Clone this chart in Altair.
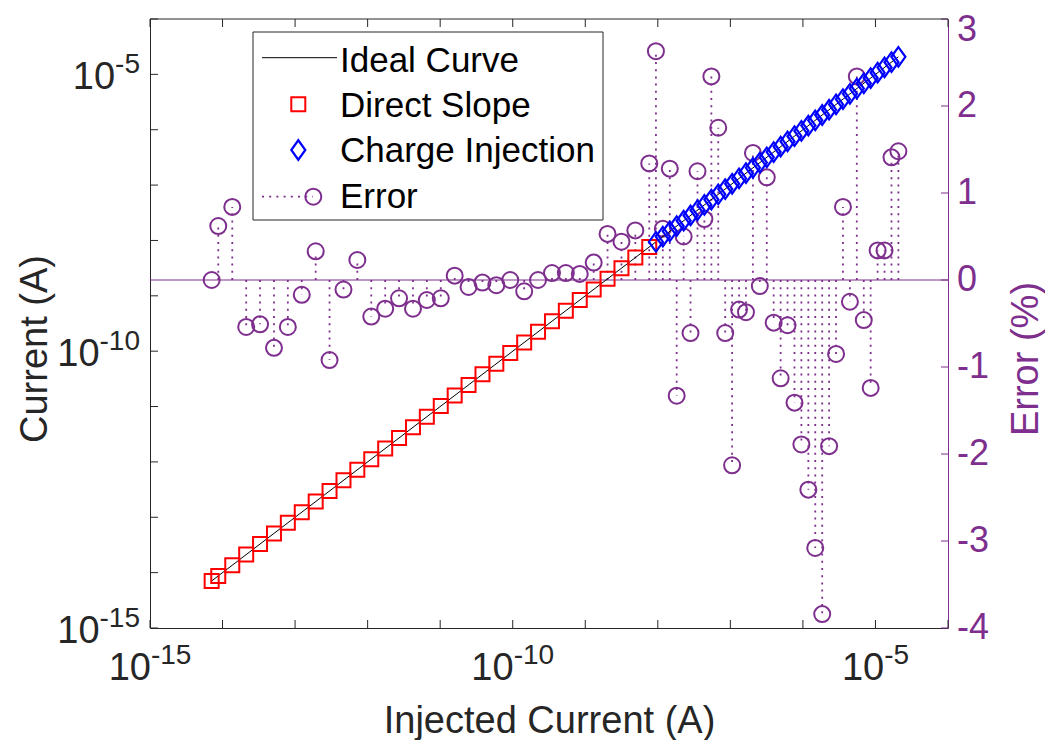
import altair as alt
import pandas as pd

# ---------------- data ----------------
# log10 of injected current for the "Direct Slope" points (they lie on the ideal curve)
SQ_EXP = [-14.150, -14.059, -13.866, -13.674, -13.483, -13.291, -13.100, -12.908,
          -12.716, -12.525, -12.333, -12.142, -11.950, -11.758, -11.567, -11.375,
          -11.184, -10.992, -10.800, -10.609, -10.417, -10.226, -10.034, -9.842,
          -9.651, -9.459, -9.268, -9.076, -8.884, -8.693, -8.501, -8.310, -8.118]
SQ_ERR = [0.00, 0.62, 0.84, -0.54, -0.51, -0.78, -0.54, -0.17, 0.33, -0.92, -0.11,
          0.23, -0.42, -0.33, -0.21, -0.33, -0.23, -0.21, 0.05, -0.08, -0.03, -0.06,
          0.00, -0.13, 0.00, 0.08, 0.08, 0.07, 0.20, 0.53, 0.44, 0.57, 1.34]
# log10 of injected current for the "Charge Injection" points
DI_EXP = [-8.026, -7.931, -7.835, -7.740, -7.644, -7.549, -7.453, -7.358, -7.262,
          -7.167, -7.071, -6.976, -6.880, -6.785, -6.689, -6.594, -6.498, -6.403,
          -6.307, -6.212, -6.116, -6.021, -5.925, -5.830, -5.734, -5.639, -5.543,
          -5.448, -5.352, -5.257, -5.161, -5.066, -4.970, -4.875, -4.779, -4.684]
DI_ERR = [2.63, 0.59, 1.28, -1.33, 0.50, -0.61, 1.25, 0.70, 2.34, 1.75, -0.61, -2.13,
          -0.34, -0.37, 1.46, -0.07, 1.18, -0.49, -1.13, -0.52, -1.41, -1.89, -2.41,
          -3.08, -3.84, -1.91, -0.85, 0.84, -0.25, 2.34, -0.46, -1.24, 0.34, 0.34,
          1.41, 1.48]
IDEAL_EXP = [-14.150, -4.684]
DECADES = [-15, -14, -13, -12, -11, -10, -9, -8, -7, -6, -5, -4]
X_LABEL_EXP = [-15, -10, -5]
Y_LABEL_EXP = [-15, -10, -5]
ERR_TICKS = [-4, -3, -2, -1, 0, 1, 2, 3]
ERR_LABELS = ["-4", "-3", "-2", "-1", "0", "1", "2", "3"]
LEGEND_LABELS = ["Ideal Curve", "Direct Slope", "Charge Injection", "Error"]

# ---------------- style ----------------
PURPLE = "#7E2F8E"
RED = "#FF0000"
BLUE = "#0000FF"
INK = "#262626"
FONT = "Liberation Sans"
W, H = 798, 609
TICK = 8
T_FS = 38
E_FS = 28
RAISE = 16
TITLE_FS = 38
LEG_FS = 35
R_FS = 36
DIAMOND = "M0,-1L0.72,0L0,1L-0.72,0Z"

AW = {"0": .556, "1": .556, "2": .556, "3": .556, "4": .556, "5": .556,
      "6": .556, "7": .556, "8": .556, "9": .556, "-": .333}


def tw(s, fs):
    return sum(AW[c] for c in s) * fs


sq = pd.DataFrame({"x": [10.0 ** e for e in SQ_EXP],
                   "y": [10.0 ** e for e in SQ_EXP], "err": SQ_ERR})
di = pd.DataFrame({"x": [10.0 ** e for e in DI_EXP],
                   "y": [10.0 ** e for e in DI_EXP], "err": DI_ERR})
err_df = pd.concat([sq, di], ignore_index=True)
err_df["zero"] = 0.0
ideal = pd.DataFrame({"x": [10.0 ** e for e in IDEAL_EXP],
                      "y": [10.0 ** e for e in IDEAL_EXP]})
dec = pd.DataFrame({"v": [10.0 ** e for e in DECADES]})
dummy = pd.DataFrame({"a": [0]})
etick = pd.DataFrame({"t": ERR_TICKS, "lab": ERR_LABELS})

xs = alt.Scale(type="log", domain=[1e-15, 1e-4], nice=False)
ys = alt.Scale(type="log", domain=[1e-15, 1e-4], nice=False)
es = alt.Scale(type="linear", domain=[-4, 3], nice=False, zero=False)

xaxis = alt.Axis(title="Injected Current (A)", labels=False, ticks=False, grid=False,
                 domain=True, domainColor=INK, domainWidth=1,
                 titleFont=FONT, titleFontSize=TITLE_FS, titleFontWeight="normal",
                 titleColor=INK, titleBaseline="alphabetic", titleAlign="center",
                 titleX=W / 2, titleY=104)
yaxis = alt.Axis(orient="left", title="Current (A)", labels=False, ticks=False,
                 grid=False, domain=True, domainColor=INK, domainWidth=1,
                 titleFont=FONT, titleFontSize=TITLE_FS, titleFontWeight="normal",
                 titleColor=INK, titleAngle=270, titleBaseline="alphabetic",
                 titleAlign="center", titleX=-104, titleY=H / 2 + 25)
eaxis = alt.Axis(orient="right", title="Error (%)", labels=False, ticks=False,
                 grid=False, domain=True, domainColor=PURPLE, domainWidth=1,
                 titleFont=FONT, titleFontSize=TITLE_FS, titleFontWeight="normal",
                 titleColor=PURPLE, titleAngle=270, titleBaseline="alphabetic",
                 titleAlign="center", titleX=89, titleY=H / 2 + 35)

X = lambda f: alt.X(f, scale=xs, axis=xaxis)
Y = lambda f: alt.Y(f, scale=ys, axis=yaxis)
E = lambda f: alt.Y(f, scale=es, axis=eaxis)

# ---------------- right (error) group ----------------
right_layers = [
    alt.Chart(dummy).transform_calculate(zero="0").mark_rule(color=PURPLE, strokeWidth=1)
    .encode(y=E("zero:Q"), x=alt.value(0), x2=alt.value(W)),
    alt.Chart(err_df).mark_rule(color=PURPLE, strokeWidth=1.8, strokeDash=[2, 5.2])
    .encode(x=X("x:Q"), y=E("zero:Q"), y2="err:Q"),
    alt.Chart(err_df).mark_point(shape="circle", filled=False, color=PURPLE, size=256,
                                 strokeWidth=2, opacity=1)
    .encode(x=X("x:Q"), y=E("err:Q")),
    alt.Chart(etick).mark_rule(color=PURPLE, strokeWidth=1)
    .encode(y=E("t:Q"), x=alt.value(W - 7), x2=alt.value(W)),
    alt.Chart(etick).transform_filter("datum.t < 3")
    .mark_text(font=FONT, fontSize=R_FS, color=PURPLE, align="left", baseline="middle")
    .encode(y=E("t:Q"), x=alt.value(W + 9), text="lab:N"),
    alt.Chart(etick).transform_filter("datum.t >= 3")
    .mark_text(font=FONT, fontSize=R_FS, color=PURPLE, align="left", baseline="middle", dy=11)
    .encode(y=E("t:Q"), x=alt.value(W + 9), text="lab:N"),
]
right_group = alt.layer(*right_layers)

# ---------------- left (current) group ----------------
left_layers = [
    alt.Chart(ideal).mark_line(color="black", strokeWidth=1)
    .encode(x=X("x:Q"), y=Y("y:Q")),
    alt.Chart(sq).mark_point(shape="square", filled=False, color=RED, size=196,
                             strokeWidth=2, opacity=1)
    .encode(x=X("x:Q"), y=Y("y:Q")),
    alt.Chart(di).mark_point(shape=DIAMOND, filled=False, color=BLUE, size=380,
                             strokeWidth=2.2, opacity=1)
    .encode(x=X("x:Q"), y=Y("y:Q")),
    # inward ticks
    alt.Chart(dec).mark_rule(color=INK, strokeWidth=1)
    .encode(y=Y("v:Q"), x=alt.value(0), x2=alt.value(TICK)),
    alt.Chart(dec).mark_rule(color=INK, strokeWidth=1)
    .encode(x=X("v:Q"), y=alt.value(H - TICK), y2=alt.value(H)),
    alt.Chart(dec).mark_rule(color=INK, strokeWidth=1)
    .encode(x=X("v:Q"), y=alt.value(0), y2=alt.value(TICK)),
    alt.Chart(dummy).mark_rule(color=INK, strokeWidth=1)
    .encode(x=alt.value(0), x2=alt.value(W), y=alt.value(0)),
]

# tick labels with superscript exponents
BOT_BASE = 52
for e in X_LABEL_EXP:
    d = pd.DataFrame({"v": [10.0 ** e]})
    w10 = tw("10", T_FS)
    we = tw(str(e), E_FS)
    tot = w10 + we
    left_layers.append(
        alt.Chart(d).mark_text(text="10", font=FONT, fontSize=T_FS, color=INK,
                               align="left", baseline="alphabetic", dx=-tot / 2)
        .encode(x=X("v:Q"), y=alt.value(H + BOT_BASE)))
    left_layers.append(
        alt.Chart(d).mark_text(text=str(e), font=FONT, fontSize=E_FS, color=INK,
                               align="left", baseline="alphabetic", dx=-tot / 2 + w10)
        .encode(x=X("v:Q"), y=alt.value(H + BOT_BASE - RAISE)))

LDY = 15
for e in Y_LABEL_EXP:
    d = pd.DataFrame({"v": [10.0 ** e]})
    we = tw(str(e), E_FS)
    left_layers.append(
        alt.Chart(d).mark_text(text="10", font=FONT, fontSize=T_FS, color=INK,
                               align="right", baseline="alphabetic", dy=LDY)
        .encode(y=Y("v:Q"), x=alt.value(-10 - we)))
    left_layers.append(
        alt.Chart(d).mark_text(text=str(e), font=FONT, fontSize=E_FS, color=INK,
                               align="right", baseline="alphabetic", dy=LDY - RAISE)
        .encode(y=Y("v:Q"), x=alt.value(-10)))

# legend
ROW_MARK_Y = [38.7, 85.3, 131.0, 177.7]
ROW_TEXT_Y = [52.7, 97.7, 143.3, 188.7]
left_layers += [
    alt.Chart(dummy).mark_rect(fill="white", stroke=INK, strokeWidth=1)
    .encode(x=alt.value(103), x2=alt.value(453), y=alt.value(13), y2=alt.value(201)),
    alt.Chart(dummy).mark_rule(color="black", strokeWidth=1)
    .encode(x=alt.value(112), x2=alt.value(187), y=alt.value(ROW_MARK_Y[0])),
    alt.Chart(dummy).mark_point(shape="square", filled=False, color=RED, size=196,
                                strokeWidth=2, opacity=1)
    .encode(x=alt.value(148.3), y=alt.value(ROW_MARK_Y[1])),
    alt.Chart(dummy).mark_point(shape=DIAMOND, filled=False, color=BLUE, size=380,
                                strokeWidth=2.2, opacity=1)
    .encode(x=alt.value(148.3), y=alt.value(ROW_MARK_Y[2])),
    alt.Chart(dummy).mark_rule(color=PURPLE, strokeWidth=1.8, strokeDash=[2, 5.2])
    .encode(x=alt.value(112), x2=alt.value(163), y=alt.value(ROW_MARK_Y[3])),
    alt.Chart(dummy).mark_point(shape="circle", filled=False, color=PURPLE, size=256,
                                strokeWidth=2, opacity=1)
    .encode(x=alt.value(163.3), y=alt.value(ROW_MARK_Y[3])),
]
for lab, yy in zip(LEGEND_LABELS, ROW_TEXT_Y):
    left_layers.append(
        alt.Chart(dummy).mark_text(text=lab, font=FONT, fontSize=LEG_FS, color="black",
                                   align="left", baseline="alphabetic")
        .encode(x=alt.value(190), y=alt.value(yy)))

left_group = alt.layer(*left_layers)

chart = (
    alt.layer(right_group, left_group)
    .resolve_scale(y="independent")
    .properties(width=W, height=H,
                autosize=alt.AutoSizeParams(type="none"),
                padding={"left": 142, "top": 11, "right": 97, "bottom": 112})
    .configure_view(stroke=None)
)

chart.save("out.html", embed_options={"renderer": "svg", "actions": False})
